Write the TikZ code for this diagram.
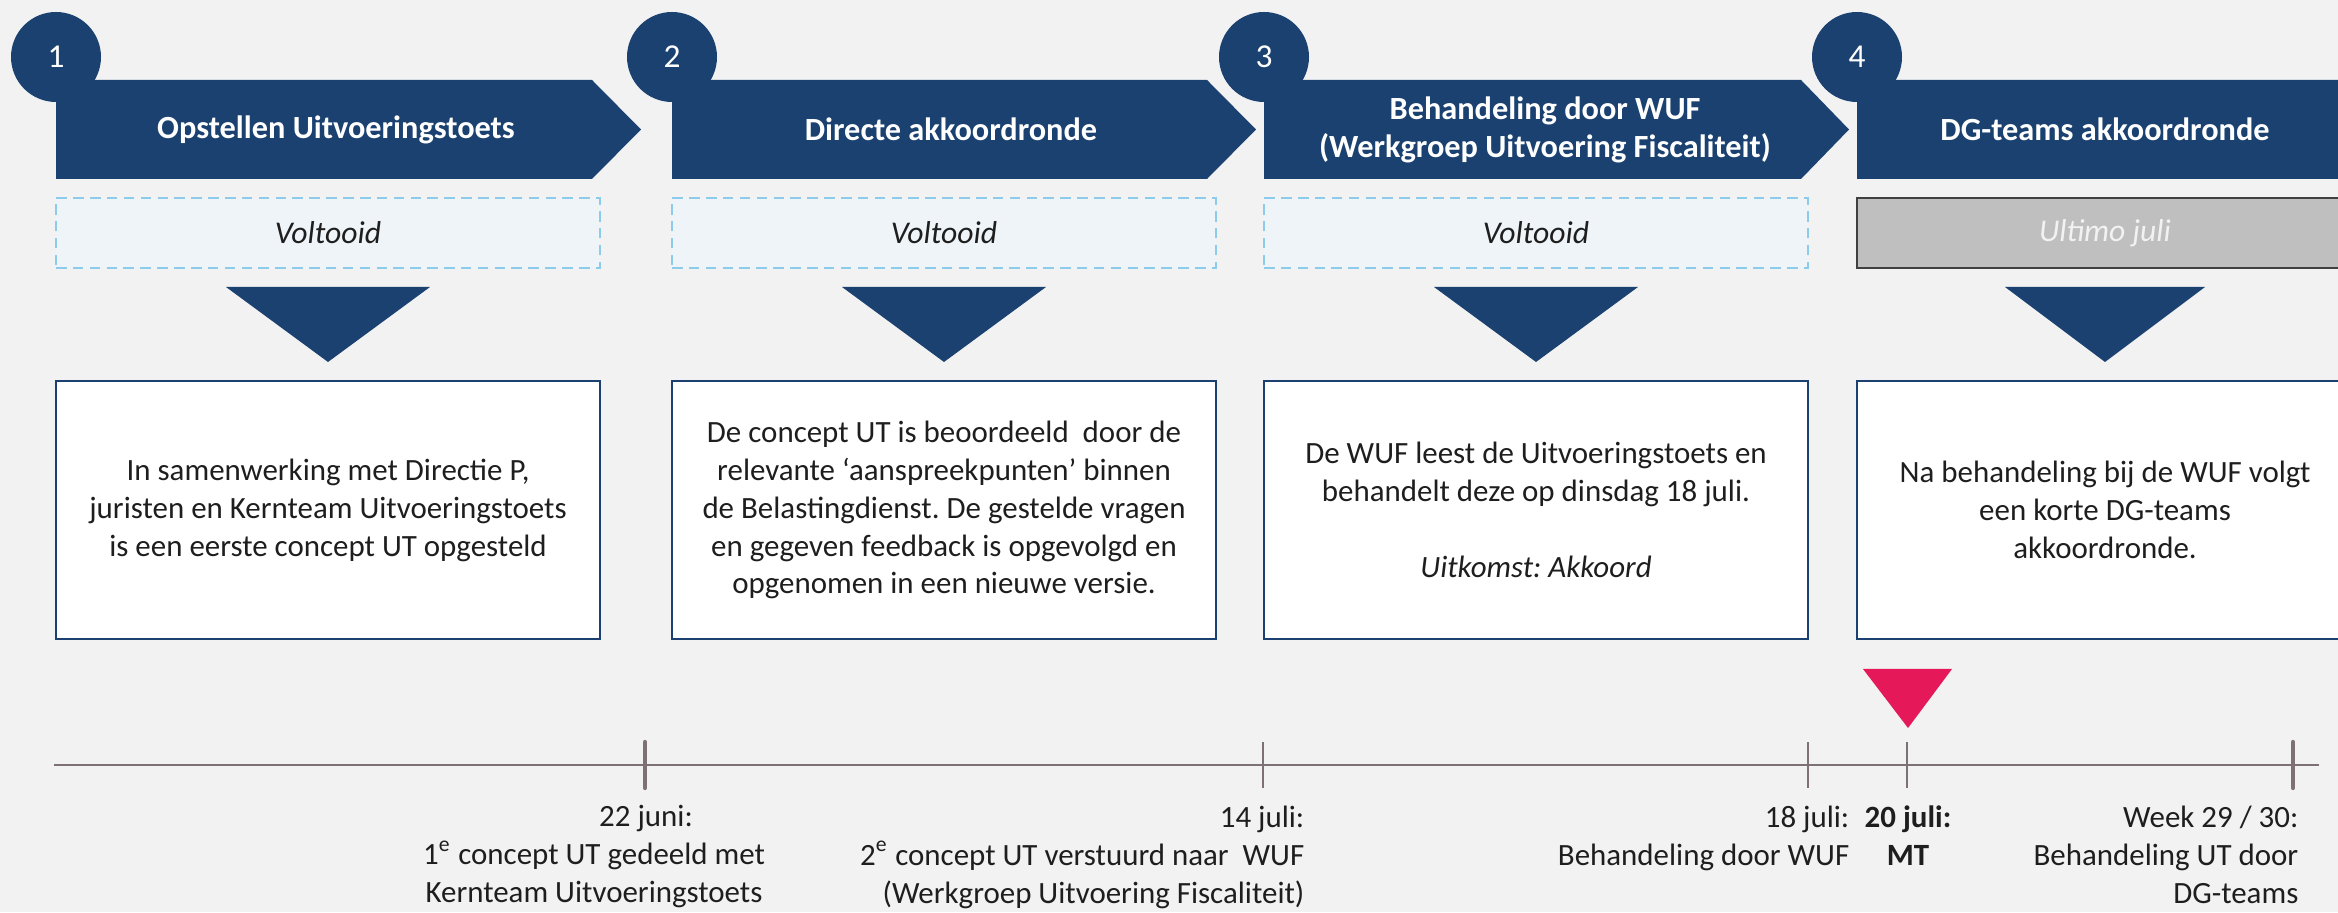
\documentclass[tikz,border=0pt]{standalone}
\usepackage{fontspec}
\setmainfont{Carlito}
\usetikzlibrary{positioning}
\definecolor{DonkerBlauw}{HTML}{1A4170}
\definecolor{LichtBlauw}{HTML}{8DCBEA}
\definecolor{StatusGrond}{HTML}{EFF4F9}
\definecolor{Achtergrond}{HTML}{F2F2F2}
\definecolor{Grijs}{HTML}{BFBFBF}
\definecolor{GrijsRand}{HTML}{404040}
\definecolor{Tijdlijn}{HTML}{7D7175}
\definecolor{Roze}{HTML}{E5195A}
\definecolor{Tekst}{HTML}{1E1E1E}
\frenchspacing

\begin{document}
\begin{tikzpicture}[
  font=\fontsize{8.8}{10.8}\selectfont,
  text=Tekst,
  nummer/.style={circle,fill=DonkerBlauw,text=white,minimum size=0.9cm,inner sep=0pt,font=\fontsize{9.5}{11}\selectfont},
  titel/.style={text=white,align=center,font=\fontsize{9.2}{10.8}\selectfont\bfseries},
  status/.style={draw=LichtBlauw,dash pattern=on 3pt off 1.8pt,line width=0.6pt,fill=StatusGrond,minimum width=5.44cm,minimum height=0.70cm,font=\fontsize{9}{10.8}\selectfont\itshape},
  gepland/.style={status,solid,draw=GrijsRand,fill=Grijs,text=Achtergrond,minimum width=4.96cm},
  tekstvak/.style={draw=DonkerBlauw,line width=0.6pt,fill=white,minimum width=5.44cm,minimum height=2.58cm,align=center,inner sep=0pt},
  datum/.style={inner sep=0pt,anchor=north east,align=right},
  tik/.style={Tijdlijn,line width=0.45pt},
  diktik/.style={Tijdlijn,line width=1.2pt,line cap=round}
]
  \useasboundingbox (0,0) rectangle (23.38,9.12);
  \fill[Achtergrond] (0,0) rectangle (23.38,9.12);
  \clip (0,0) rectangle (23.38,9.12);

  % stappen
  \node[nummer] (nr1) at (0.56,8.55) {1};
  \node[nummer] (nr2) at (6.72,8.55) {2};
  \node[nummer] (nr3) at (12.64,8.55) {3};
  \node[nummer] (nr4) at (18.57,8.55) {4};

  \fill[DonkerBlauw] (0.56,8.32) -- (5.92,8.32) -- (6.41,7.825) -- (5.92,7.33) -- (0.56,7.33) -- cycle;
  \fill[DonkerBlauw] (6.72,8.32) -- (12.07,8.32) -- (12.56,7.825) -- (12.07,7.33) -- (6.72,7.33) -- cycle;
  \fill[DonkerBlauw] (12.64,8.32) -- (18.01,8.32) -- (18.49,7.825) -- (18.01,7.33) -- (12.64,7.33) -- cycle;
  \fill[DonkerBlauw] (18.57,8.32) -- (23.45,8.32) -- (23.94,7.825) -- (23.45,7.33) -- (18.57,7.33) -- cycle;

  \node[titel] (titel1) at (3.36,7.825) {Opstellen Uitvoeringstoets};
  \node[titel] (titel2) at (9.51,7.825) {Directe akkoordronde};
  \node[titel] (titel3) at (15.45,7.825) {Behandeling door WUF\\(Werkgroep Uitvoering Fiscaliteit)};
  \node[titel] (titel4) at (21.05,7.825) {DG-teams akkoordronde};

  \node[status] (status1) at (3.28,6.79) {Voltooid};
  \node[status] (status2) at (9.44,6.79) {Voltooid};
  \node[status] (status3) at (15.36,6.79) {Voltooid};
  \node[gepland] (status4) at (21.05,6.79) {Ultimo juli};

  \fill[DonkerBlauw] (2.26,6.25) -- (4.30,6.25) -- (3.28,5.50) -- cycle;
  \fill[DonkerBlauw] (8.42,6.25) -- (10.46,6.25) -- (9.44,5.50) -- cycle;
  \fill[DonkerBlauw] (14.34,6.25) -- (16.38,6.25) -- (15.36,5.50) -- cycle;
  \fill[DonkerBlauw] (20.05,6.25) -- (22.05,6.25) -- (21.05,5.50) -- cycle;

  \node[tekstvak] (vak1) at (3.28,4.02)
    {In samenwerking met Directie P,\\juristen en Kernteam Uitvoeringstoets\\is een eerste concept UT opgesteld};
  \node[tekstvak] (vak2) at (9.44,4.02)
    {De concept UT is beoordeeld\ \ door de\\relevante ‘aanspreekpunten’ binnen\\de Belastingdienst. De gestelde vragen\\en gegeven feedback is opgevolgd en\\opgenomen in een nieuwe versie.};
  \node[tekstvak] (vak3) at (15.36,4.02)
    {De WUF leest de Uitvoeringstoets en\\behandelt deze op dinsdag 18 juli.\\[10.8pt]\textit{Uitkomst: Akkoord}};
  \node[tekstvak,minimum width=4.96cm] (vak4) at (21.05,4.02)
    {Na behandeling bij de WUF volgt\\een korte DG-teams\\akkoordronde.};

  % tijdlijn
  \coordinate (begin) at (0.54,1.47);
  \coordinate (eind) at (23.19,1.47);
  \draw[Tijdlijn,line width=0.85pt] (begin) -- (eind);
  \draw[diktik] (6.45,1.24) -- (6.45,1.70);
  \draw[tik] (12.63,1.24) -- (12.63,1.70);
  \draw[tik] (18.08,1.24) -- (18.08,1.70);
  \draw[tik] (19.07,1.24) -- (19.07,1.70);
  \draw[diktik] (22.93,1.24) -- (22.93,1.70);
  \fill[Roze] (18.63,2.43) -- (19.52,2.43) -- (19.08,1.84) -- cycle;

  \node[datum,anchor=north,align=center] (juni22) at (5.94,1.07)
    {\hspace*{1.04cm}22 juni:\\1\textsuperscript{e} concept UT gedeeld met\\Kernteam Uitvoeringstoets};
  \node[datum] (juli14) at (13.05,1.07)
    {14 juli:\\2\textsuperscript{e} concept UT verstuurd naar\ \ WUF\\(Werkgroep Uitvoering Fiscaliteit)};
  \node[datum] (juli18) at (18.50,1.07) {18 juli:\\Behandeling door WUF};
  \node[datum,anchor=north,align=center,font=\fontsize{8.8}{10.8}\selectfont\bfseries] (juli20) at (19.08,1.07) {20 juli:\\MT};
  \node[datum] (week) at (22.99,1.07) {Week 29 / 30:\\Behandeling UT door\\DG-teams};
\end{tikzpicture}
\end{document}
